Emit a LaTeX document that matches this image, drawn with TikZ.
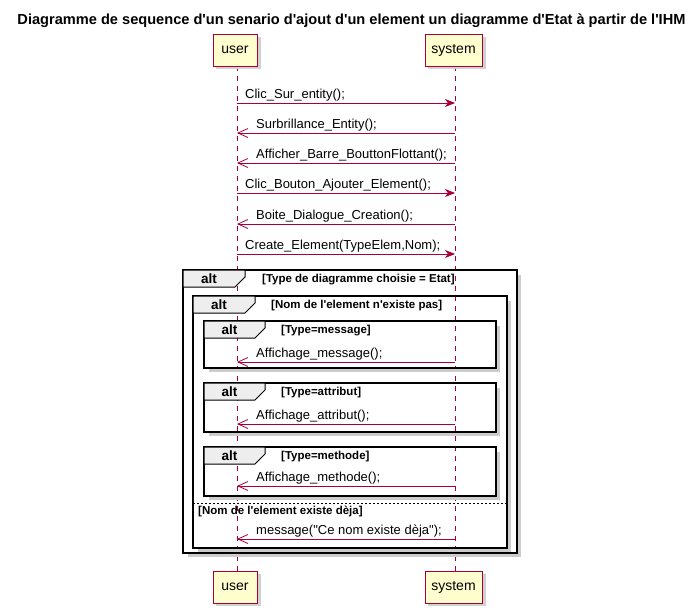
\documentclass[tikz,border=0pt]{standalone}
\usepackage{fontspec}
\setmainfont{Liberation Sans}[Ligatures=TeXOff]
\usetikzlibrary{arrows.meta}
\definecolor{umlred}{HTML}{A80036}
\definecolor{umlfill}{HTML}{FEFECE}
\definecolor{tabfill}{HTML}{EEEEEE}
\tikzset{
  pbox/.style={draw=umlred, fill=umlfill, line width=1pt, minimum height=32pt, inner xsep=0pt, font=\fontsize{14}{16}\selectfont},
  pshadow/.style={fill=black!18},
  lifeline/.style={draw=umlred, line width=0.8pt, dash pattern=on 5pt off 5pt},
  msgR/.style={draw=umlred, line width=0.8pt, -{Stealth[length=10pt,width=8pt,inset=3pt]}},
  msgL/.style={draw=umlred, line width=0.8pt, -{Straight Barb[length=10pt,width=9pt]}},
  msgtxt/.style={font=\fontsize{13}{15}\selectfont, anchor=base west, inner sep=0pt},
  guardtxt/.style={font=\bfseries\fontsize{11.5}{13}\selectfont, anchor=base west, inner sep=0pt},
  alttxt/.style={font=\bfseries\fontsize{13.5}{15}\selectfont, inner sep=0pt},
  frameline/.style={draw=black, line width=1.5pt},
  tabline/.style={draw=black, fill=tabfill, line width=1pt},
  fshadow/.style={draw=black!20, line width=3pt},
  titletxt/.style={font=\bfseries\fontsize{14.6}{17}\selectfont, anchor=base, inner sep=0pt},
}
\newcommand{\altframe}[6]{% x1,y1,x2,y2,tabright
  \draw[fshadow] ({#3+2.5},{#2+5}) -- ({#3+2.5},{#4+2.5}) -- ({#1+5},{#4+2.5});
  \draw[frameline] (#1,#2) rectangle (#3,#4);
  \draw[tabline] (#1,#2) -- (#5,#2) -- (#5,{#2+7}) -- ({#5-10},{#2+17}) -- (#1,{#2+17}) -- cycle;
  \node[alttxt] at ({(#1+#5-10)/2},{#2+8.5}) {alt};
}
\begin{document}
\begin{tikzpicture}[x=1pt,y=-1pt]
\useasboundingbox[fill=white] (0,0) rectangle (697,613);
% title
\node[titletxt] (title) at (351.5,24) {Diagramme de sequence d'un senario d'ajout d'un element un diagramme d'Etat à partir de l'IHM};
% lifeline anchors
\coordinate (uT) at (237,66);
\coordinate (uB) at (237,571);
\coordinate (sT) at (455,66);
\coordinate (sB) at (455,571);
\draw[lifeline] (uT) -- (uB);
\draw[lifeline] (sT) -- (sB);
% participants with shadows
\fill[pshadow] (216,37) rectangle (261,69);
\fill[pshadow] (428,37) rectangle (486,69);
\fill[pshadow] (216,574) rectangle (261,606);
\fill[pshadow] (428,574) rectangle (486,606);
\node[pbox, minimum width=44pt] (user) at (235,50) {user};
\node[pbox, minimum width=57pt] (system) at (453.5,50) {system};
\node[pbox, minimum width=44pt] (userB) at (235,587) {user};
\node[pbox, minimum width=57pt] (systemB) at (453.5,587) {system};
% messages
\draw[msgR] (uT |- 0,103) -- (sT |- 0,103);
\node[msgtxt] (m1) at (245,98) {Clic\_Sur\_entity();};
\draw[msgL] (sT |- 0,133) -- (uT |- 0,133);
\node[msgtxt] (m2) at (256,128) {Surbrillance\_Entity();};
\draw[msgL] (sT |- 0,163) -- (uT |- 0,163);
\node[msgtxt] (m3) at (256,158) {Afficher\_Barre\_BouttonFlottant();};
\draw[msgR] (uT |- 0,193) -- (sT |- 0,193);
\node[msgtxt] (m4) at (245,188) {Clic\_Bouton\_Ajouter\_Element();};
\draw[msgL] (sT |- 0,224) -- (uT |- 0,224);
\node[msgtxt] (m5) at (256,219) {Boite\_Dialogue\_Creation();};
\draw[msgR] (uT |- 0,254) -- (sT |- 0,254);
\node[msgtxt] (m6) at (245,249) {Create\_Element(TypeElem,Nom);};
% frames
\altframe{183}{270}{517}{553}{245}{}
\node[guardtxt] (g1) at (262,282) {[Type de diagramme choisie = Etat]};
\altframe{193}{296}{507}{548}{255}{}
\node[guardtxt] (g2) at (271,308) {[Nom de l'element n'existe pas]};
\altframe{204}{321}{496}{368}{265}{}
\node[guardtxt] (g3) at (281,333) {[Type=message]};
\draw[msgL] (sT |- 0,362) -- (uT |- 0,362);
\node[msgtxt] (m7) at (256,357) {Affichage\_message();};
\altframe{204}{383}{496}{432}{265}{}
\node[guardtxt] (g4) at (281,395) {[Type=attribut]};
\draw[msgL] (sT |- 0,424) -- (uT |- 0,424);
\node[msgtxt] (m8) at (256,419) {Affichage\_attribut();};
\altframe{204}{447}{496}{496}{265}{}
\node[guardtxt] (g5) at (281,459) {[Type=methode]};
\draw[msgL] (sT |- 0,486) -- (uT |- 0,486);
\node[msgtxt] (m9) at (256,481) {Affichage\_methode();};
% else separator
\coordinate (elseL) at (193,503);
\coordinate (elseR) at (507,503);
\draw[black, line width=0.6pt, dash pattern=on 2pt off 2pt] (elseL) -- (elseR);
\node[guardtxt] (g6) at (198,514) {[Nom de l'element existe dèja]};
\draw[msgL] (sT |- 0,539) -- (uT |- 0,539);
\node[msgtxt] (m10) at (256,534) {message("Ce nom existe dèja");};
\end{tikzpicture}
\end{document}
